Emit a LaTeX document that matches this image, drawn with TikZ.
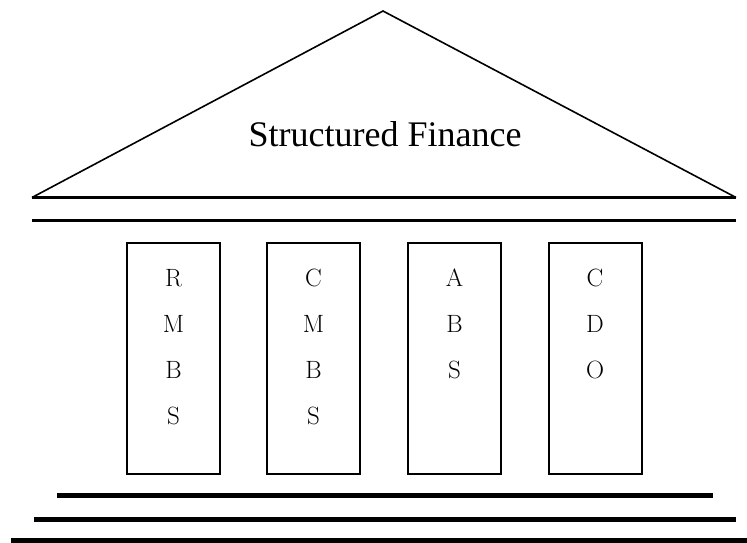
\documentclass[tikz,border=0pt]{standalone}
\usepackage{fontspec}
\newfontfamily\titlefont{Liberation Serif}
\begin{document}
\begin{tikzpicture}[x=1pt,y=-1pt,
  roofline/.style={line width=3pt},
  baseline/.style={line width=5pt},
  pillar/.style={draw,line width=2pt,minimum width=93pt,minimum height=231pt,inner sep=0pt},
  letter/.style={anchor=base,inner sep=0pt,font=\fontsize{25}{25}\selectfont},
  title/.style={anchor=base,inner sep=0pt,font=\titlefont\fontsize{36}{36}\selectfont}]
\useasboundingbox (0,0) rectangle (747,543);
% roof
\coordinate (rl) at (32,197.5);
\coordinate (ra) at (383,11);
\coordinate (rr) at (736,197.5);
\draw[line width=1.6pt,line join=miter] (rl) -- (ra) -- (rr);
\draw[roofline] (rl) -- (rr);
\coordinate (l2a) at (32,220.5);
\coordinate (l2b) at (736,220.5);
\draw[roofline] (l2a) -- (l2b);
\node[title] (t) at (385,146) {Structured Finance};
% pillars
\node[pillar] (p1) at (173.5,358.5) {};
\node[pillar] (p2) at (313.5,358.5) {};
\node[pillar] (p3) at (454.5,358.5) {};
\node[pillar] (p4) at (595,358.5) {};
% letters
\node[letter] (p1a) at (173.5,286) {R};
\node[letter] (p1b) at (173.5,332) {M};
\node[letter] (p1c) at (173.5,378) {B};
\node[letter] (p1d) at (173.5,424) {S};
\node[letter] (p2a) at (313.5,286) {C};
\node[letter] (p2b) at (313.5,332) {M};
\node[letter] (p2c) at (313.5,378) {B};
\node[letter] (p2d) at (313.5,424) {S};
\node[letter] (p3a) at (454.5,286) {A};
\node[letter] (p3b) at (454.5,332) {B};
\node[letter] (p3c) at (454.5,378) {S};
\node[letter] (p4a) at (595,286) {C};
\node[letter] (p4b) at (595,332) {D};
\node[letter] (p4c) at (595,378) {O};
% steps
\coordinate (s1a) at (57,495.5);
\coordinate (s1b) at (713,495.5);
\coordinate (s2a) at (34,519.5);
\coordinate (s2b) at (736,519.5);
\coordinate (s3a) at (11,540.5);
\coordinate (s3b) at (747,540.5);
\draw[baseline] (s1a) -- (s1b);
\draw[baseline] (s2a) -- (s2b);
\draw[baseline] (s3a) -- (s3b);
\end{tikzpicture}
\end{document}
